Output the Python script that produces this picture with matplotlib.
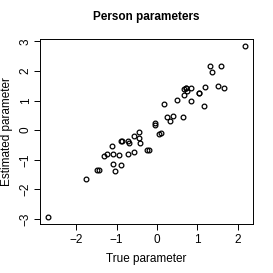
import numpy as np
import matplotlib.pyplot as plt

plt.rcParams['font.family'] = ['Liberation Sans', 'DejaVu Sans']

# true vs estimated person parameters
true_par = [-2.70, -1.75, -1.48, -1.44, -1.31, -1.24, -1.12, -1.10, -1.09, -1.04,
            -0.95, -0.90, -0.90, -0.86, -0.72, -0.69, -0.72, -0.58, -0.58, -0.45,
            -0.45, -0.41, -0.25, -0.20, -0.04, -0.04, 0.04, 0.10, 0.17, 0.25,
            0.31, 0.39, 0.49, 0.64, 0.67, 0.67, 0.71, 0.72, 0.74, 0.83,
            0.85, 1.04, 1.05, 1.16, 1.20, 1.32, 1.37, 1.50, 1.58, 1.66, 2.18]
est_par = [-2.94, -1.64, -1.34, -1.34, -0.87, -0.81, -0.53, -0.81, -1.15, -1.39,
           -0.85, -1.18, -0.37, -0.35, -0.36, -0.44, -0.82, -0.75, -0.19, -0.06,
           -0.26, -0.44, -0.68, -0.68, 0.25, 0.18, -0.14, -0.08, 0.88, 0.45,
           0.30, 0.49, 1.01, 0.45, 1.19, 1.40, 1.42, 1.44, 1.33, 0.99,
           1.43, 1.25, 1.25, 0.81, 1.45, 2.18, 1.96, 1.49, 2.18, 1.41, 2.85]

fig = plt.figure(figsize=(2.73, 2.73), dpi=100)
ax = fig.add_axes([0.1465, 0.1795, 0.7802, 0.6775])

ax.plot(true_par, est_par, 'o', mfc='none', mec='black', ms=3.4, mew=0.9)

# R style 4% padding
def lims(v):
    lo, hi = min(v), max(v)
    d = (hi - lo) * 0.04
    return lo - d, hi + d

ax.set_xlim(lims(true_par))
ax.set_ylim(lims(est_par))
ax.set_xticks([-2, -1, 0, 1, 2])
ax.set_yticks([-3, -2, -1, 0, 1, 2, 3])
ax.tick_params(labelsize=8.5, length=4, width=0.7, pad=3)
ax.tick_params(axis='y', labelrotation=90, pad=2)
for lab in ax.get_yticklabels():
    lab.set_va('center')
for s in ax.spines.values():
    s.set_linewidth(0.7)

ax.set_title("Person parameters", fontsize=8.5, fontweight='bold', pad=14)
ax.set_xlabel("True parameter", fontsize=8.5, labelpad=5)
ax.set_ylabel("Estimated parameter", fontsize=8.5, labelpad=5)

fig.savefig("out.png", dpi=100)
